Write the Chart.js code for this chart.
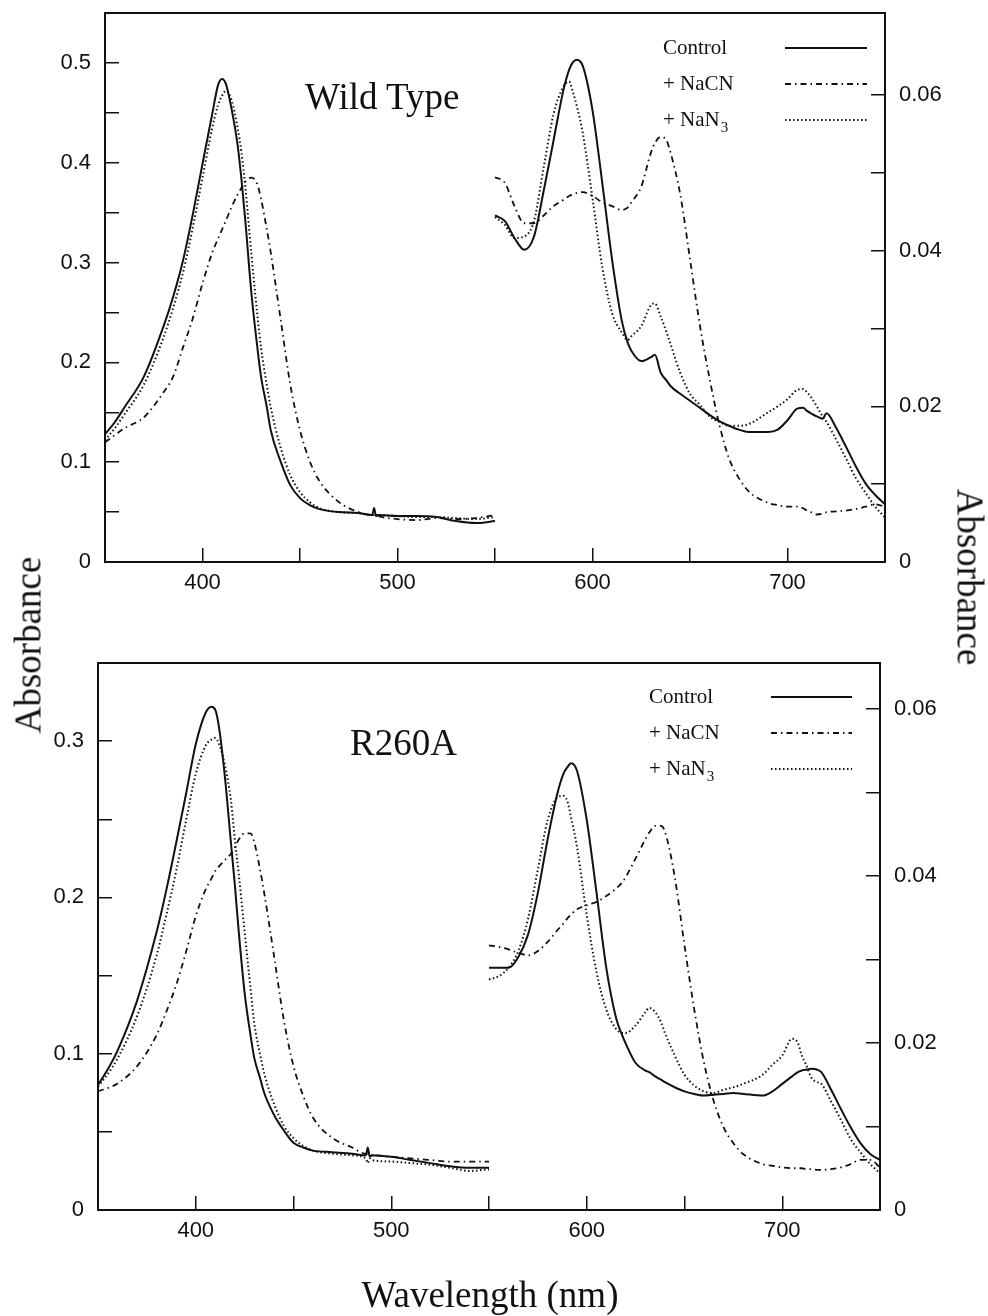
<!DOCTYPE html>
<html>
<head>
<meta charset="utf-8">
<script src="https://cdn.jsdelivr.net/npm/chart.js@4.4.1/dist/chart.umd.min.js"></script>
<style>
  body { margin: 0; background: #fff; }
  #wrap { position: relative; width: 988px; height: 1316px; font-family: "Liberation Serif", serif; color: #111; }
  canvas { position: absolute; left: 0; }
  .lbl { position: absolute; font-size: 37px; line-height: 1; white-space: nowrap; }
</style>
</head>
<body>
<div id="wrap">
  <canvas id="topChart" width="988" height="620" style="top:0"></canvas>
  <canvas id="bottomChart" width="988" height="650" style="top:630px"></canvas>
  <div class="lbl" style="left:305px; top:78px;">Wild Type</div>
  <div class="lbl" style="left:350px; top:724px;">R260A</div>
  <div class="lbl" style="left:490px; top:1276px; transform:translateX(-50%);">Wavelength (nm)</div>
  <div class="lbl" style="left:28px; top:645px; transform:translate(-50%,-50%) rotate(-90deg);">Absorbance</div>
  <div class="lbl" style="left:970px; top:577px; transform:translate(-50%,-50%) rotate(90deg);">Absorbance</div>
</div>

<script>
// wavelength grids (nm)
const LEFT_NM = [350, 355, 360, 370, 380, 385, 390, 395, 400, 405, 408, 410, 412, 415, 418, 420, 422, 425, 428, 430,
  433, 435, 440, 445, 450, 455, 460, 470, 480, 487, 488, 489, 490, 500, 510, 520, 530, 540, 550];
const RIGHT_NM = [550, 555, 560, 565, 570, 575, 580, 585, 588, 590, 592, 595, 600, 605, 610, 615, 618, 620, 625, 630,
  632, 635, 638, 640, 645, 650, 655, 660, 665, 670, 675, 680, 690, 695, 700, 705, 708, 710, 712, 715,
  718, 720, 725, 730, 735, 740, 745, 750];

const SERIES = ['Control', '+ NaCN', '+ NaN'];
const SERIES_SUB = ['', '', '3'];

// Wild type, Soret region (left axis)
const wtCtrlSoret = [.128, .140, .155, .186, .236, .266, .302, .348, .399, .449, .478, .484, .479, .453, .418, .383, .341, .271, .217, .186,
  .155, .132, .101, .077, .064, .057, .053, .050, .049, .047, .054, .046, .047, .046, .046, .045, .041, .039, .041];
const wtCnSoret = [.120, .127, .134, .145, .170, .186, .215, .244, .279, .310, .324, .333, .342, .356, .368, .375, .381, .385, .379, .364,
  .333, .310, .244, .178, .132, .101, .081, .060, .050, .047, .047, .047, .046, .043, .042, .044, .043, .044, .047];
const wtN3Soret = [.122, .134, .148, .178, .225, .255, .290, .335, .385, .435, .458, .467, .472, .462, .435, .410, .375, .310, .250, .215,
  .177, .155, .115, .087, .070, .060, .054, .050, .049, .047, .047, .047, .047, .046, .045, .045, .044, .043, .045];

// Wild type, visible region (right axis)
const wtCtrlVis = [.0445, .0438, .0416, .0401, .0418, .0477, .0541, .0605, .0632, .0642, .0645, .0637, .0580, .0487, .0389, .0310, .0282, .0271, .0258, .0263,
  .0266, .0243, .0233, .0226, .0216, .0207, .0198, .0189, .0181, .0175, .0170, .0167, .0167, .0170, .0182, .0197, .0198, .0194, .0191, .0187,
  .0184, .0191, .0172, .0148, .0123, .0101, .0086, .0074];
const wtCnVis = [.0494, .0487, .0457, .0435, .0435, .0445, .0457, .0465, .0470, .0472, .0474, .0475, .0470, .0462, .0457, .0452, .0455, .0462, .0482, .0526,
  .0538, .0546, .0541, .0526, .0472, .0389, .0305, .0236, .0177, .0133, .0108, .0091, .0076, .0073, .0071, .0071, .0069, .0066, .0064, .0061,
  .0062, .0064, .0065, .0066, .0068, .0071, .0074, .0071];
const wtN3Vis = [.0443, .0433, .0416, .0418, .0438, .0507, .0575, .0610, .0617, .0603, .0585, .0551, .0467, .0379, .0320, .0295, .0285, .0290, .0303, .0330,
  .0332, .0315, .0295, .0280, .0243, .0216, .0202, .0187, .0180, .0175, .0175, .0177, .0192, .0200, .0209, .0221, .0222, .0218, .0212, .0200,
  .0187, .0180, .0157, .0133, .0108, .0089, .0071, .0057];

// R260A, Soret region (left axis)
const mtCtrlSoret = [.080, .090, .102, .134, .178, .205, .235, .266, .298, .318, .322, .320, .308, .276, .235, .208, .178, .139, .112, .097,
  .084, .075, .061, .051, .043, .040, .038, .037, .036, .035, .040, .034, .035, .034, .032, .030, .028, .027, .027];
const mtCnSoret = [.076, .078, .081, .092, .112, .127, .144, .165, .188, .205, .212, .217, .220, .224, .228, .232, .237, .241, .241, .235,
  .217, .203, .163, .122, .092, .073, .059, .046, .040, .036, .036, .035, .035, .034, .033, .032, .031, .031, .031];
const mtN3Soret = [.079, .087, .097, .124, .163, .189, .217, .249, .279, .297, .301, .302, .298, .284, .262, .237, .215, .178, .142, .119,
  .099, .0875, .068, .054, .046, .041, .038, .036, .035, .033, .030, .033, .032, .031, .030, .029, .027, .025, .026];

// R260A, visible region (right axis)
const mtCtrlVis = [.0290, .0290, .0290, .0303, .0330, .0380, .0444, .0499, .0522, .0530, .0535, .0526, .0467, .0380, .0290, .0230, .0210, .0199, .0176, .0167,
  .0165, .0160, .0156, .0153, .0147, .0142, .0139, .0137, .0138, .0139, .0140, .0139, .0137, .0142, .0151, .0160, .0165, .0167, .0168, .0169,
  .0168, .0165, .0144, .0121, .0099, .0080, .0067, .0060];
const mtCnVis = [.0317, .0315, .0312, .0308, .0305, .0310, .0321, .0335, .0343, .0349, .0354, .0360, .0365, .0369, .0376, .0385, .0392, .0399, .0421, .0444,
  .0452, .0460, .0460, .0453, .0399, .0317, .0240, .0176, .0130, .0099, .0080, .0067, .0055, .0053, .0051, .0050, .0050, .0050, .0049, .0049,
  .0048, .0048, .0049, .0051, .0055, .0060, .0060, .0051];
const mtN3Vis = [.0276, .0280, .0290, .0310, .0349, .0408, .0467, .0494, .0496, .0490, .0470, .0435, .0353, .0285, .0240, .0217, .0212, .0212, .0221, .0237,
  .0242, .0237, .0225, .0212, .0185, .0162, .0149, .0142, .0140, .0144, .0147, .0151, .0162, .0174, .0185, .0205, .0200, .0185, .0175, .0158,
  .0153, .0151, .0130, .0108, .0085, .0069, .0055, .0044];

const INK = '#111';
const TICK_FONT = { family: '"Liberation Sans", Arial, sans-serif', size: 22 };
const STYLES = [
  { borderWidth: 2, borderDash: [] },
  { borderWidth: 1.8, borderDash: [6, 4, 1.5, 4] },
  { borderWidth: 2, borderDash: [1.5, 2.5] }
];

function pts(xs, ys) {
  return xs.map((x, i) => ({ x: x, y: ys[i] }));
}

function makeDatasets(soret, vis) {
  const out = [];
  soret.forEach((ys, k) => out.push(Object.assign({
    label: SERIES[k] + SERIES_SUB[k], data: pts(LEFT_NM, ys), yAxisID: 'yL'
  }, STYLES[k])));
  vis.forEach((ys, k) => out.push(Object.assign({
    label: SERIES[k] + SERIES_SUB[k], data: pts(RIGHT_NM, ys), yAxisID: 'yR'
  }, STYLES[k])));
  return out;
}

const lineKey = {
  id: 'lineKey',
  afterDraw(chart, args, opts) {
    const ctx = chart.ctx;
    ctx.save();
    ctx.fillStyle = INK;
    ctx.textBaseline = 'middle';
    SERIES.forEach((name, i) => {
      const y = opts.y + i * opts.gap;
      ctx.font = '21px "Liberation Serif"';
      ctx.fillText(name, opts.textX, y);
      if (SERIES_SUB[i]) {
        const w = ctx.measureText(name).width;
        ctx.font = '15px "Liberation Serif"';
        ctx.fillText(SERIES_SUB[i], opts.textX + w + 1, y + 8);
      }
      ctx.strokeStyle = INK;
      ctx.lineWidth = STYLES[i].borderWidth;
      ctx.setLineDash(STYLES[i].borderDash);
      ctx.beginPath();
      ctx.moveTo(opts.x1, y);
      ctx.lineTo(opts.x2, y);
      ctx.stroke();
    });
    ctx.restore();
  }
};

// pin the plot frame: fixed axis sizes and no label overflow padding
function pin(size) {
  return s => {
    if (s.isHorizontal()) s.height = size; else s.width = size;
    s.paddingTop = 0; s.paddingBottom = 0; s.paddingLeft = 0; s.paddingRight = 0;
  };
}

function makeChart(id, p, soret, vis) {
  const axisBorder = { color: INK, width: 2 };
  const tickGrid = { drawOnChartArea: false, tickLength: -14, color: INK, lineWidth: 1.5 };
  return new Chart(document.getElementById(id), {
    type: 'line',
    data: { datasets: makeDatasets(soret, vis) },
    options: {
      responsive: false,
      animation: false,
      events: [],
      layout: { padding: 0 },
      elements: {
        point: { radius: 0 },
        line: { borderColor: INK, cubicInterpolationMode: 'monotone', borderCapStyle: 'butt' }
      },
      plugins: {
        legend: { display: false },
        tooltip: { enabled: false },
        lineKey: p.key
      },
      scales: {
        x: {
          type: 'linear', position: 'bottom', min: 350, max: 750,
          ticks: {
            stepSize: 50, autoSkip: false, maxRotation: 0, padding: 22, color: INK, font: TICK_FONT,
            callback: v => (v % 100 === 0 && v > 350 && v < 750) ? String(v) : ''
          },
          grid: tickGrid, border: axisBorder,
          afterFit: pin(p.h - p.bottom)
        },
        xTop: {
          type: 'linear', position: 'top', min: 350, max: 750,
          ticks: { display: false },
          grid: { drawOnChartArea: false, drawTicks: false },
          border: axisBorder,
          afterFit: pin(p.top)
        },
        yL: {
          type: 'linear', position: 'left', min: 0, max: p.leftMax,
          ticks: {
            stepSize: 0.05, autoSkip: false, padding: 28, color: INK, font: TICK_FONT,
            callback: v => {
              const k = Math.round(v * 100);
              return (k % 10 === 0 && v < p.leftMax - 1e-9) ? String(k / 100) : '';
            }
          },
          grid: tickGrid, border: axisBorder,
          afterFit: pin(p.left)
        },
        yR: {
          type: 'linear', position: 'right', min: 0, max: p.rightMax,
          ticks: {
            stepSize: 0.01, autoSkip: false, padding: 28, color: INK, font: TICK_FONT,
            callback: v => {
              const k = Math.round(v * 1000);
              return (k % 20 === 0 && v < p.rightMax - 1e-9) ? String(k / 1000) : '';
            }
          },
          grid: tickGrid, border: axisBorder,
          afterFit: pin(988 - p.right)
        }
      }
    },
    plugins: [lineKey]
  });
}

makeChart('topChart',
  { h: 620, left: 105, right: 885, top: 13, bottom: 562, leftMax: 0.55, rightMax: 0.0705,
    key: { textX: 663, x1: 785, x2: 867, y: 48, gap: 36 } },
  [wtCtrlSoret, wtCnSoret, wtN3Soret], [wtCtrlVis, wtCnVis, wtN3Vis]);

makeChart('bottomChart',
  { h: 650, left: 98, right: 880, top: 33, bottom: 580, leftMax: 0.35, rightMax: 0.0655,
    key: { textX: 649, x1: 771, x2: 852, y: 67, gap: 36 } },
  [mtCtrlSoret, mtCnSoret, mtN3Soret], [mtCtrlVis, mtCnVis, mtN3Vis]);
</script>
</body>
</html>
